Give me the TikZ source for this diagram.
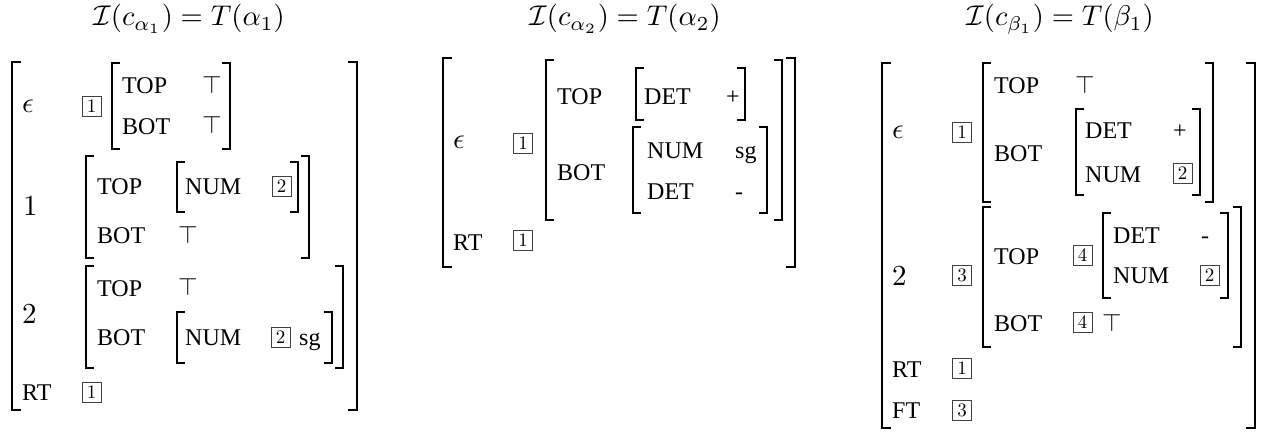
\documentclass[tikz,border=0pt]{standalone}
\usepackage[no-math]{fontspec}
\setmainfont{Liberation Serif}
\newcommand{\labfont}{\fontsize{24}{28}\selectfont}
\newcommand{\mth}[2]{\scalebox{#1}{\fontsize{10}{12}\selectfont$#2$}}
\newcommand{\brk}[5]{%
  \draw[brk] (#1+#5,#3) -- (#1,#3) -- (#1,#4) -- (#1+#5,#4);
  \draw[brk] (#2-#5,#3) -- (#2,#3) -- (#2,#4) -- (#2-#5,#4);}
\newcommand{\TT}{\mth{2.5}{\top}}
\newcommand{\tg}[1]{\mth{1.9}{#1}}
\newcommand{\bg}[1]{\mth{2.9}{#1}}
\newcommand{\ttl}[1]{\mth{2.85}{#1}}
\begin{document}
\begin{tikzpicture}[x=1pt,y=-1pt,
  brk/.style={line width=1.6pt, line join=miter},
  lab/.style={anchor=base west, inner sep=0pt, font=\labfont},
  big/.style={anchor=base west, inner sep=0pt},
  tit/.style={anchor=base, inner sep=0pt},
  tag/.style={draw=black!75, line width=0.7pt, minimum width=19pt, minimum height=20pt, inner sep=0pt}]
\useasboundingbox (0,0) rectangle (1275,436);

% ---------------- Panel 1 ----------------
\node[tit] (t1) at (189,26) {\ttl{\mathcal{I}(c_{\alpha_1}) = T(\alpha_1)}};
\brk{12}{357}{62}{410}{9}
\node[big] (a-eps) at (22,112) {\bg{\epsilon}};
\node[tag] (a-b1) at (91.5,106) {\tg{1}};
\brk{112}{230}{63}{149}{8}
\node[lab] (a-top1) at (122,93) {TOP};
\node[lab] (a-tt1) at (202,93) {\TT};
\node[lab] (a-bot1) at (122,134) {BOT};
\node[lab] (a-tt2) at (202,133) {\TT};

\node[big] (a-one) at (23,215) {\bg{1}};
\brk{86}{309}{156}{258}{8}
\node[lab] (a-top2) at (97,194) {TOP};
\brk{177}{298}{162}{212}{8}
\node[lab] (a-num1) at (185,194) {NUM};
\node[tag] (a-b2) at (281.5,186.5) {\tg{2}};
\node[lab] (a-bot2) at (97,243) {BOT};
\node[lab] (a-tt3) at (178,243) {\TT};

\node[big] (a-two) at (22,323) {\bg{2}};
\brk{86}{343}{266}{368}{8}
\node[lab] (a-top3) at (97,296) {TOP};
\node[lab] (a-tt4) at (178,295) {\TT};
\node[lab] (a-bot3) at (97,345) {BOT};
\brk{177}{332}{312}{363}{8}
\node[lab] (a-num2) at (185,345) {NUM};
\node[tag] (a-b3) at (280.5,337.5) {\tg{2}};
\node[lab] (a-sg) at (299,345) {sg};
\node[lab] (a-rt) at (22,400) {RT};
\node[tag] (a-b4) at (91.5,392) {\tg{1}};

% ---------------- Panel 2 ----------------
\node[tit] (t2) at (625,26) {\ttl{\mathcal{I}(c_{\alpha_2}) = T(\alpha_2)}};
\brk{443}{795}{58}{267}{9}
\node[big] (b-eps) at (453,148) {\bg{\epsilon}};
\node[tag] (b-b1) at (523,143.5) {\tg{1}};
\brk{546}{782}{60}{220}{8}
\node[lab] (b-top) at (557,105) {TOP};
\brk{636}{745}{68}{120}{8}
\node[lab] (b-det1) at (644,105) {DET};
\node[lab] (b-plus) at (726,105) {+};
\node[lab] (b-bot) at (557,180) {BOT};
\brk{633}{767}{127}{213}{8}
\node[lab] (b-num) at (647,158) {NUM};
\node[lab] (b-sg) at (735,158) {sg};
\node[lab] (b-det2) at (647,199) {DET};
\node[lab] (b-minus) at (735,199) {-};
\node[lab] (b-rt) at (453,250) {RT};
\node[tag] (b-b2) at (523,240) {\tg{1}};

% ---------------- Panel 3 ----------------
\node[tit] (t3) at (1060,26) {\ttl{\mathcal{I}(c_{\beta_1}) = T(\beta_1)}};
\brk{882}{1255}{63}{428}{9}
\node[big] (c-eps) at (892,138) {\bg{\epsilon}};
\node[tag] (c-b1) at (962,132) {\tg{1}};
\brk{983}{1213}{63}{202}{8}
\node[lab] (c-top1) at (994,94) {TOP};
\node[lab] (c-tt1) at (1075,94) {\TT};
\node[lab] (c-bot1) at (994,161) {BOT};
\brk{1076}{1200}{109}{195}{8}
\node[lab] (c-det1) at (1085,139) {DET};
\node[lab] (c-plus) at (1173,139) {+};
\node[lab] (c-num1) at (1085,182) {NUM};
\node[tag] (c-b2) at (1182.5,173) {\tg{2}};

\node[big] (c-two) at (892,285) {\bg{2}};
\node[tag] (c-b3) at (962,275.5) {\tg{3}};
\brk{983}{1241}{207}{347}{8}
\node[lab] (c-top2) at (994,264) {TOP};
\node[tag] (c-b4) at (1082.5,255.5) {\tg{4}};
\brk{1103}{1228}{213}{298}{8}
\node[lab] (c-det2) at (1113,243) {DET};
\node[lab] (c-minus) at (1201,243) {-};
\node[lab] (c-num2) at (1113,283) {NUM};
\node[tag] (c-b5) at (1209.5,275.5) {\tg{2}};
\node[lab] (c-bot2) at (994,331) {BOT};
\node[tag] (c-b6) at (1082.5,322.5) {\tg{4}};
\node[lab] (c-tt2) at (1102,331) {\TT};
\node[lab] (c-rt) at (892,377) {RT};
\node[tag] (c-b7) at (962,368.5) {\tg{1}};
\node[lab] (c-ft) at (892,418) {FT};
\node[tag] (c-b8) at (962,410) {\tg{3}};
\end{tikzpicture}
\end{document}
